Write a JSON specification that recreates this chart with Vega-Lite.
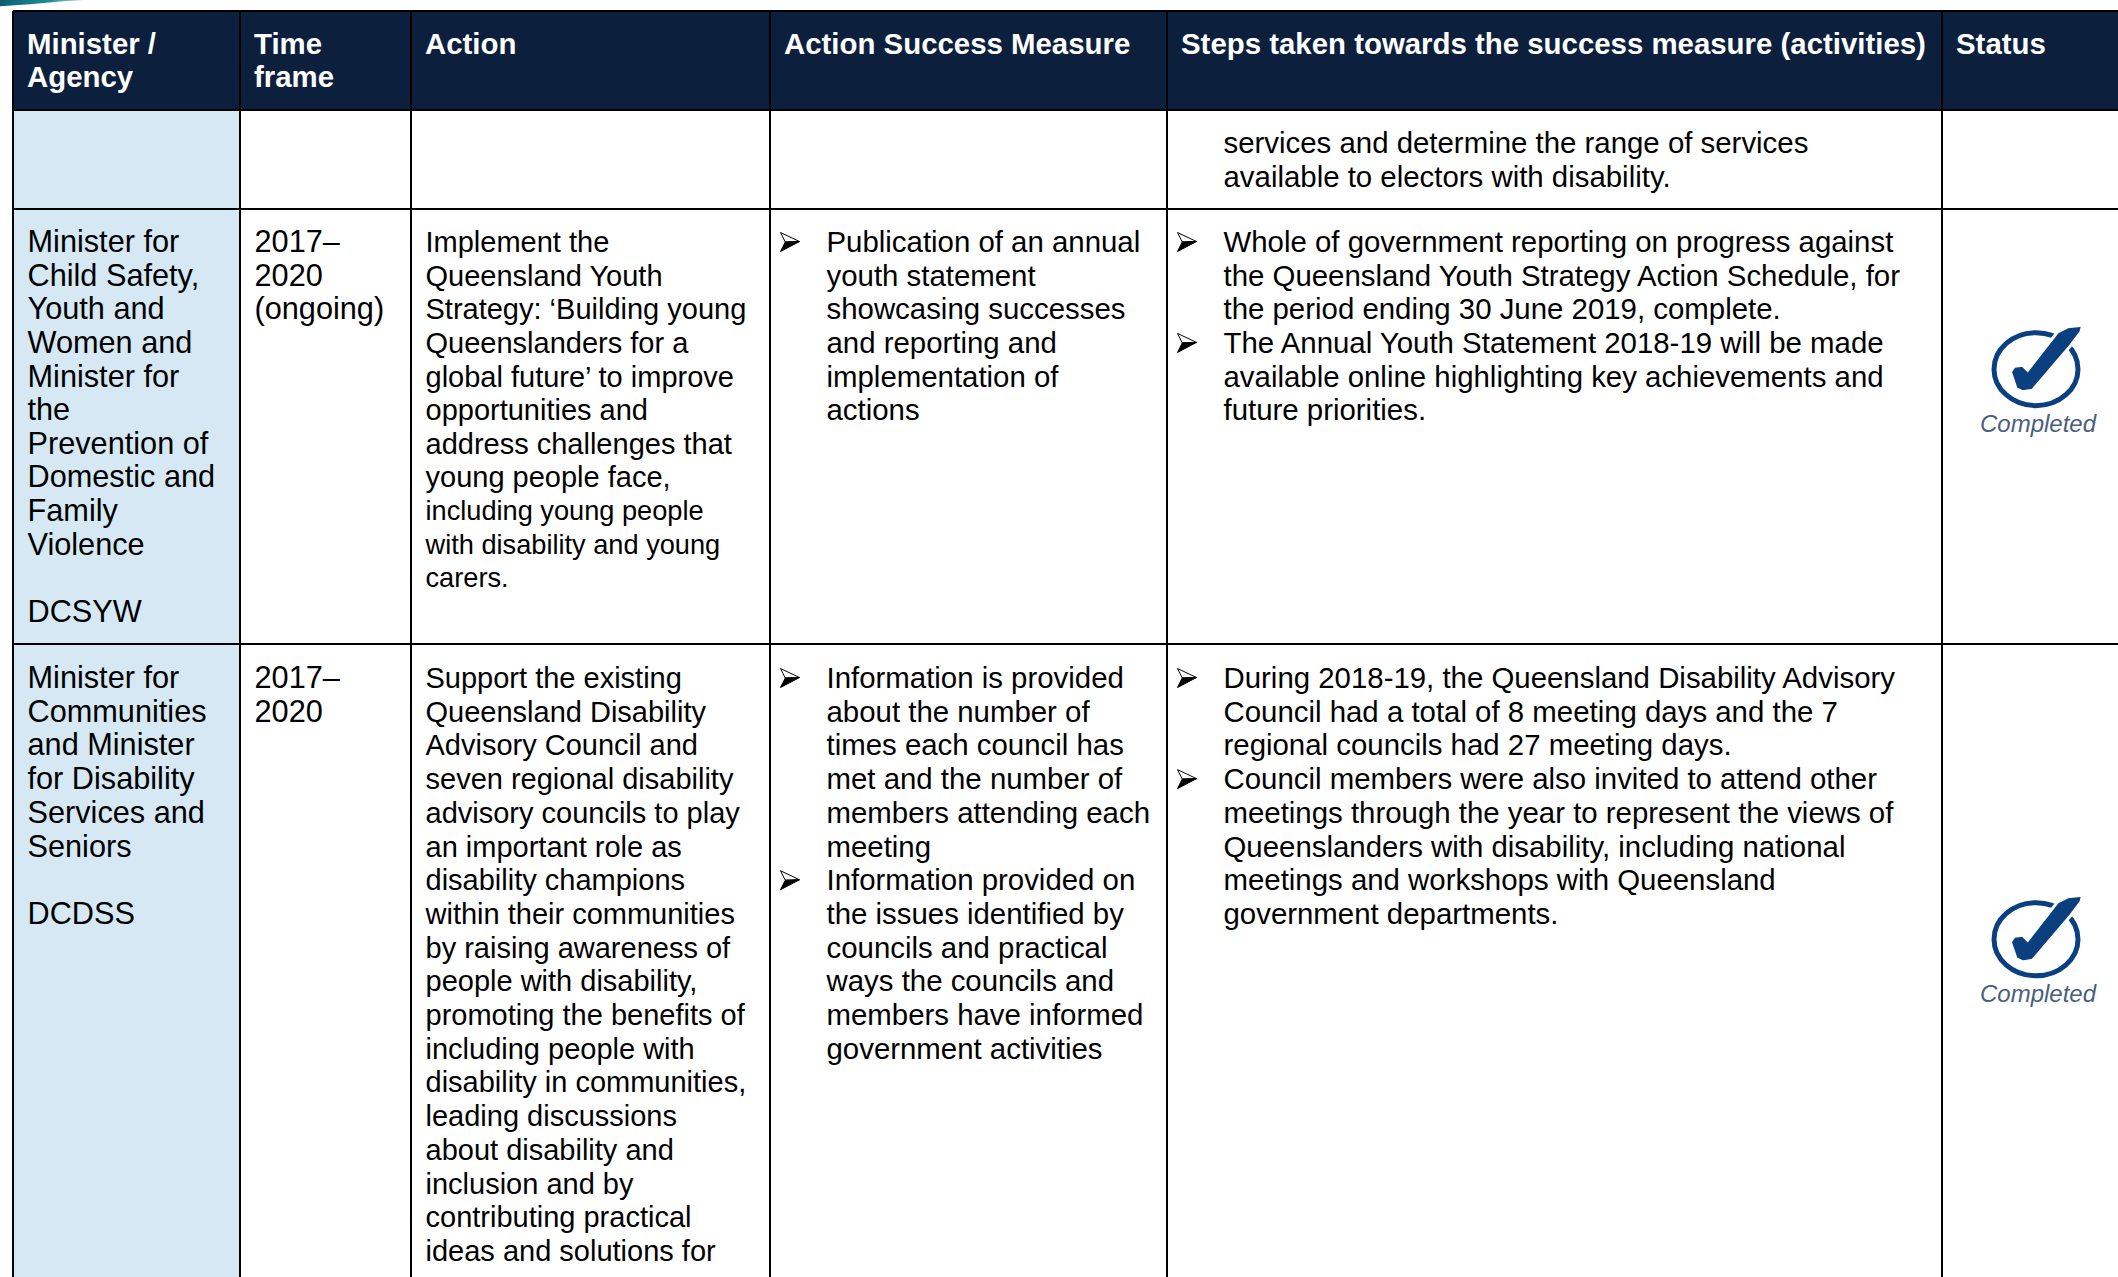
{"$schema":"https://vega.github.io/schema/vega-lite/v6.json","width":2118,"height":1277,"autosize":{"type":"fit","contains":"padding"},"padding":0,"background":"white","config":{"view":{"stroke":null},"axis":{"disable":true}},
"datasets":{
"columns":[{"col":0,"from":-1,"to":33.77},{"col":1,"from":-1,"to":33.77},{"col":2,"from":-1,"to":33.77},{"col":3,"from":-1,"to":33.77},{"col":4,"from":-1,"to":33.77},{"col":5,"from":-1,"to":33.77}],
"rows":[{"line":-1,"from":0,"to":6},{"line":1.5,"from":0,"to":6},{"line":3.5,"from":0,"to":6},{"line":15.5,"from":0,"to":6}],
"swoosh":[{"col":-0.0573,"top":-1.32,"bottom":-1.14},{"col":0.075,"top":-1.32,"bottom":-1.2},{"col":0.207,"top":-1.32,"bottom":-1.28},{"col":0.317,"top":-1.32,"bottom":-1.32}],
"status":[{"col":5,"line":7.78,"label":"Completed"},{"col":5,"line":23.75,"label":"Completed"}],
"cells":[
{"part":"header","col":0,"line":0,"text":"Minister /"},{"part":"header","col":0,"line":1,"text":"Agency"},{"part":"header","col":1,"line":0,"text":"Time"},{"part":"header","col":1,"line":1,"text":"frame"},{"part":"header","col":2,"line":0,"text":"Action"},{"part":"header","col":3,"line":0,"text":"Action Success Measure"},{"part":"header","col":4,"line":0,"text":"Steps taken towards the success measure (activities)"},{"part":"header","col":5,"line":0,"text":"Status"},
{"part":"item","col":4,"line":2,"text":"services and determine the range of services"},{"part":"item","col":4,"line":3,"text":"available to electors with disability."},
{"part":"plain","col":0,"line":4,"text":"Minister for"},{"part":"plain","col":0,"line":5,"text":"Child Safety,"},{"part":"plain","col":0,"line":6,"text":"Youth and"},{"part":"plain","col":0,"line":7,"text":"Women and"},{"part":"plain","col":0,"line":8,"text":"Minister for"},{"part":"plain","col":0,"line":9,"text":"the"},{"part":"plain","col":0,"line":10,"text":"Prevention of"},{"part":"plain","col":0,"line":11,"text":"Domestic and"},{"part":"plain","col":0,"line":12,"text":"Family"},{"part":"plain","col":0,"line":13,"text":"Violence"},{"part":"plain","col":0,"line":15,"text":"DCSYW"},
{"part":"plain","col":1,"line":4,"text":"2017–"},{"part":"plain","col":1,"line":5,"text":"2020"},{"part":"plain","col":1,"line":6,"text":"(ongoing)"},
{"part":"plain","col":2,"line":4,"text":"Implement the"},{"part":"plain","col":2,"line":5,"text":"Queensland Youth"},{"part":"plain","col":2,"line":6,"text":"Strategy: ‘Building young"},{"part":"plain","col":2,"line":7,"text":"Queenslanders for a"},{"part":"plain","col":2,"line":8,"text":"global future’ to improve"},{"part":"plain","col":2,"line":9,"text":"opportunities and"},{"part":"plain","col":2,"line":10,"text":"address challenges that"},{"part":"plain","col":2,"line":11,"text":"young people face,"},{"part":"plain","col":2,"line":12,"text":"including young people"},{"part":"plain","col":2,"line":13,"text":"with disability and young"},{"part":"plain","col":2,"line":14,"text":"carers."},
{"part":"bullet","col":3,"line":4},{"part":"item","col":3,"line":4,"text":"Publication of an annual"},{"part":"item","col":3,"line":5,"text":"youth statement"},{"part":"item","col":3,"line":6,"text":"showcasing successes"},{"part":"item","col":3,"line":7,"text":"and reporting and"},{"part":"item","col":3,"line":8,"text":"implementation of"},{"part":"item","col":3,"line":9,"text":"actions"},
{"part":"bullet","col":4,"line":4},{"part":"item","col":4,"line":4,"text":"Whole of government reporting on progress against"},{"part":"item","col":4,"line":5,"text":"the Queensland Youth Strategy Action Schedule, for"},{"part":"item","col":4,"line":6,"text":"the period ending 30 June 2019, complete."},{"part":"bullet","col":4,"line":7},{"part":"item","col":4,"line":7,"text":"The Annual Youth Statement 2018-19 will be made"},{"part":"item","col":4,"line":8,"text":"available online highlighting key achievements and"},{"part":"item","col":4,"line":9,"text":"future priorities."},
{"part":"plain","col":0,"line":16,"text":"Minister for"},{"part":"plain","col":0,"line":17,"text":"Communities"},{"part":"plain","col":0,"line":18,"text":"and Minister"},{"part":"plain","col":0,"line":19,"text":"for Disability"},{"part":"plain","col":0,"line":20,"text":"Services and"},{"part":"plain","col":0,"line":21,"text":"Seniors"},{"part":"plain","col":0,"line":23,"text":"DCDSS"},
{"part":"plain","col":1,"line":16,"text":"2017–"},{"part":"plain","col":1,"line":17,"text":"2020"},
{"part":"plain","col":2,"line":16,"text":"Support the existing"},{"part":"plain","col":2,"line":17,"text":"Queensland Disability"},{"part":"plain","col":2,"line":18,"text":"Advisory Council and"},{"part":"plain","col":2,"line":19,"text":"seven regional disability"},{"part":"plain","col":2,"line":20,"text":"advisory councils to play"},{"part":"plain","col":2,"line":21,"text":"an important role as"},{"part":"plain","col":2,"line":22,"text":"disability champions"},{"part":"plain","col":2,"line":23,"text":"within their communities"},{"part":"plain","col":2,"line":24,"text":"by raising awareness of"},{"part":"plain","col":2,"line":25,"text":"people with disability,"},{"part":"plain","col":2,"line":26,"text":"promoting the benefits of"},{"part":"plain","col":2,"line":27,"text":"including people with"},{"part":"plain","col":2,"line":28,"text":"disability in communities,"},{"part":"plain","col":2,"line":29,"text":"leading discussions"},{"part":"plain","col":2,"line":30,"text":"about disability and"},{"part":"plain","col":2,"line":31,"text":"inclusion and by"},{"part":"plain","col":2,"line":32,"text":"contributing practical"},{"part":"plain","col":2,"line":33,"text":"ideas and solutions for"},
{"part":"bullet","col":3,"line":16},{"part":"item","col":3,"line":16,"text":"Information is provided"},{"part":"item","col":3,"line":17,"text":"about the number of"},{"part":"item","col":3,"line":18,"text":"times each council has"},{"part":"item","col":3,"line":19,"text":"met and the number of"},{"part":"item","col":3,"line":20,"text":"members attending each"},{"part":"item","col":3,"line":21,"text":"meeting"},{"part":"bullet","col":3,"line":22},{"part":"item","col":3,"line":22,"text":"Information provided on"},{"part":"item","col":3,"line":23,"text":"the issues identified by"},{"part":"item","col":3,"line":24,"text":"councils and practical"},{"part":"item","col":3,"line":25,"text":"ways the councils and"},{"part":"item","col":3,"line":26,"text":"members have informed"},{"part":"item","col":3,"line":27,"text":"government activities"},
{"part":"bullet","col":4,"line":16},{"part":"item","col":4,"line":16,"text":"During 2018-19, the Queensland Disability Advisory"},{"part":"item","col":4,"line":17,"text":"Council had a total of 8 meeting days and the 7"},{"part":"item","col":4,"line":18,"text":"regional councils had 27 meeting days."},{"part":"bullet","col":4,"line":19},{"part":"item","col":4,"line":19,"text":"Council members were also invited to attend other"},{"part":"item","col":4,"line":20,"text":"meetings through the year to represent the views of"},{"part":"item","col":4,"line":21,"text":"Queenslanders with disability, including national"},{"part":"item","col":4,"line":22,"text":"meetings and workshops with Queensland"},{"part":"item","col":4,"line":23,"text":"government departments."}
]},
"encoding":{
"x":{"field":"col","type":"quantitative","axis":null,"scale":{"domain":[-0.0573,0,1,2,3,4,5,6],"range":[0,13,240,411,770,1167,1942,2118]}},
"y":{"field":"line","type":"quantitative","axis":null,"scale":{"domain":[-1.32,-1,0,1,1.5,2,3,3.5,4,15,15.5,16,33,33.77],"range":[0,11,45,78,110,143,177,209,242,612,644,678,1251,1277]}}
},
"layer":[
{"data":{"name":"swoosh"},"mark":{"type":"area","color":{"x1":0,"x2":1,"y1":0,"y2":0,"gradient":"linear","stops":[{"offset":0,"color":"#0b5f6e"},{"offset":0.6,"color":"#1f8f9a"},{"offset":1,"color":"#bfe3e6"}]}},"encoding":{"y":{"field":"bottom","type":"quantitative"},"y2":{"field":"top"}}},
{"data":{"values":[{"col":0,"end":6,"line":-1,"bottom":1.5}]},"mark":{"type":"rect","color":"#0C203E"},"encoding":{"x2":{"field":"end"},"y2":{"field":"bottom"}}},
{"data":{"values":[{"col":0,"end":1,"line":1.5,"bottom":33.77}]},"mark":{"type":"rect","color":"#D5E8F3"},"encoding":{"x2":{"field":"end"},"y2":{"field":"bottom"}}},
{"data":{"name":"columns"},"mark":{"type":"rule","color":"#000000","strokeWidth":2},"encoding":{"y":{"field":"from","type":"quantitative"},"y2":{"field":"to"}}},
{"data":{"name":"rows"},"mark":{"type":"rule","color":"#000000","strokeWidth":2},"encoding":{"x":{"field":"from","type":"quantitative"},"x2":{"field":"to"}}},
{"data":{"name":"cells"},"transform":[{"filter":"datum.part==='header'"}],"mark":{"type":"text","align":"left","baseline":"middle","font":"Liberation Sans","fontWeight":"bold","fontSize":29.4,"color":"#ffffff","dx":14},"encoding":{"text":{"field":"text"}}},
{"data":{"name":"cells"},"transform":[{"filter":"datum.part==='plain' && datum.col<2"}],"mark":{"type":"text","align":"left","baseline":"middle","font":"Liberation Sans","fontSize":30.7,"color":"#000000","dx":14.5,"dy":1},"encoding":{"text":{"field":"text"}}},
{"data":{"name":"cells"},"transform":[{"filter":"datum.part==='plain' && datum.col===2 && !(datum.line>=12 && datum.line<=14)"}],"mark":{"type":"text","align":"left","baseline":"middle","font":"Liberation Sans","fontSize":29,"color":"#000000","dx":14.5,"dy":1},"encoding":{"text":{"field":"text"}}},
{"data":{"name":"cells"},"transform":[{"filter":"datum.part==='plain' && datum.col===2 && datum.line>=12 && datum.line<=14"}],"mark":{"type":"text","align":"left","baseline":"middle","font":"Liberation Sans","fontSize":27.2,"color":"#000000","dx":14.5,"dy":1},"encoding":{"text":{"field":"text"}}},
{"data":{"name":"cells"},"transform":[{"filter":"datum.part==='item'"}],"mark":{"type":"text","align":"left","baseline":"middle","font":"Liberation Sans","fontSize":29.4,"color":"#000000","dx":56.5,"dy":1},"encoding":{"text":{"field":"text"}}},
{"data":{"name":"cells"},"transform":[{"filter":"datum.part==='bullet'"}],"mark":{"type":"point","shape":"M-1,-1L1,-0.05L-0.5,0Z","filled":true,"size":361,"fill":"#ffffff","stroke":"#000000","strokeWidth":1,"opacity":1,"xOffset":20},"encoding":{}},
{"data":{"name":"cells"},"transform":[{"filter":"datum.part==='bullet'"}],"mark":{"type":"point","shape":"M-1,1L1,-0.05L-0.5,0Z","filled":true,"size":361,"fill":"#000000","stroke":"#000000","strokeWidth":1,"opacity":1,"xOffset":20},"encoding":{}},
{"data":{"name":"status"},"mark":{"type":"point","shape":"M-0.84,0A0.84,0.73,0,1,1,0.84,0A0.84,0.73,0,1,1,-0.84,0Z","filled":false,"size":10000,"strokeWidth":5,"color":"#0A4080","opacity":1,"xOffset":94},"encoding":{}},
{"data":{"name":"status"},"mark":{"type":"point","shape":"M0.933,-0.88L0.633,-0.847L0.433,-0.747L-0.167,0.02L-0.267,-0.08L-0.433,-0.06L-0.513,0.053L-0.4,0.387L-0.267,0.453L-0.067,0.42L0.7,-0.48L0.9,-0.747Z","filled":true,"size":10000,"color":"#0A4080","fill":"#0A4080","stroke":"#ffffff","strokeWidth":3,"opacity":1,"xOffset":94},"encoding":{}},
{"data":{"name":"status"},"mark":{"type":"text","align":"center","baseline":"middle","font":"Liberation Sans","fontStyle":"italic","fontSize":24,"color":"#4A5F7F","xOffset":96,"yOffset":56},"encoding":{"text":{"field":"label"}}}
]}
